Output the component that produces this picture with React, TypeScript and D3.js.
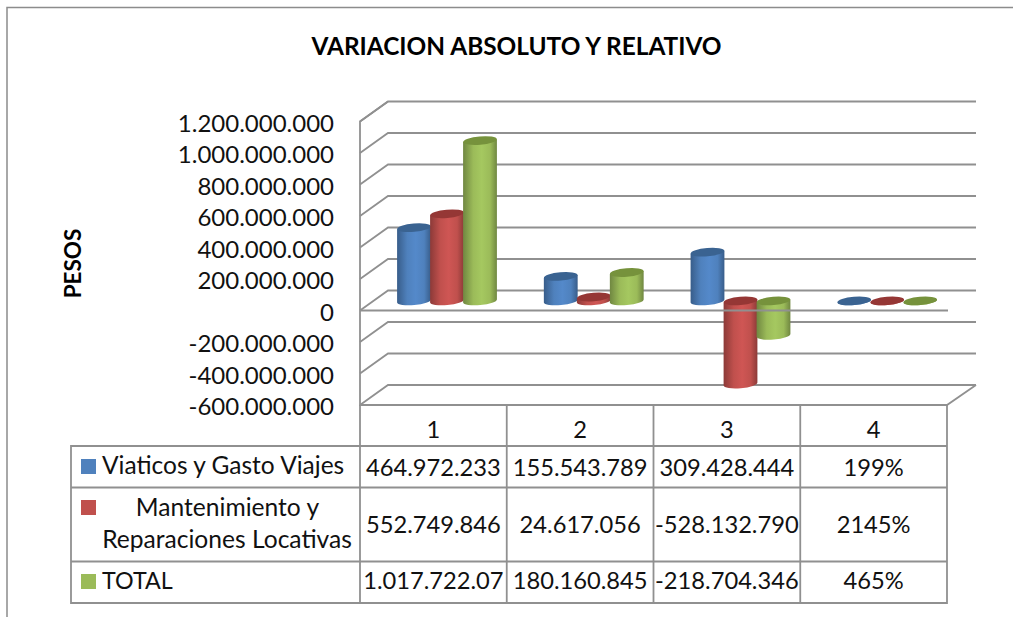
import React from "react";
import * as d3 from "d3";

const title = "VARIACION ABSOLUTO Y RELATIVO";
const yAxisTitle = "PESOS";
const categories = ["1", "2", "3", "4"];
const seriesNames = ["Viaticos y Gasto Viajes", "Mantenimiento y|Reparaciones Locativas", "TOTAL"];
const viaticos = [464972233, 155543789, 309428444, 199];
const mantenimiento = [552749846, 24617056, -528132790, 2145];
const total = [1017722070, 180160845, -218704346, 465];
const viaticosLabels = ["464.972.233", "155.543.789", "309.428.444", "199%"];
const mantenimientoLabels = ["552.749.846", "24.617.056", "-528.132.790", "2145%"];
const totalLabels = ["1.017.722.07", "180.160.845", "-218.704.346", "465%"];
const yTicks = [1200000000, 1000000000, 800000000, 600000000, 400000000, 200000000, 0, -200000000, -400000000, -600000000];
const colors = [
  { id: "b", base: "#4f81bd", light: "#5489ca", dark: "#385d8a", top: "#3a6391" },
  { id: "r", base: "#c0504d", light: "#cf5654", dark: "#8c3a38", top: "#953735" },
  { id: "g", base: "#9bbb59", light: "#a5c860", dark: "#708741", top: "#76923c" },
];

const fontFamily = "Lato, 'Open Sans', sans-serif";
const gridColor = "#909090";
const textColor = "#111";
const fmt = (v: number) => d3.format(",")(v).replace(/,/g, ".").replace(/\u2212/g, "-");

export default function App() {
  const series = [viaticos, mantenimiento, total];
  const labels = [viaticosLabels, mantenimientoLabels, totalLabels];
  const y = d3.scaleLinear().domain([-600000000, 1200000000]).range([405, 121.5]);
  const x = d3.scaleBand().domain(categories).range([360, 947]).paddingInner(0).paddingOuter(0);
  const depthX = 28;
  const depthY = -20;
  const barW = 33;
  const inset = 37.5;
  const midShift = -9.6;
  const rx = 16.9;
  const ry = 4.2;
  const rowY = [446, 487.5, 561.5, 603];
  const valueBase = [476, 532.5, 589];
  const keyCenter = [466.5, 507.5, 581.5];
  const colX = [...categories.map((c) => x(c) as number), 947];

  const cyl = (cx: number, y0: number, y1: number, c: (typeof colors)[number], key: string) => {
    const top = Math.min(y0, y1);
    const bot = Math.max(y0, y1);
    const tilt = -5;
    const l = cx - rx;
    const r = cx + rx;
    const dy = Math.tan((tilt * Math.PI) / 180) * rx;
    const path = `M${l},${top - dy} L${l},${bot - dy} A${rx},${ry} ${tilt} 0 0 ${r},${bot + dy} L${r},${top + dy} Z`;
    return (
      <g key={key}>
        <path d={path} fill={`url(#grad-${c.id})`} />
        <ellipse cx={cx} cy={top} rx={rx} ry={ry} fill={c.top} transform={`rotate(${tilt} ${cx} ${top})`} />
      </g>
    );
  };

  return (
    <svg width={1013} height={617} style={{ position: "absolute", left: 0, top: 0, background: "#fff" }} fontFamily={fontFamily}>
      <defs>
        {colors.map((c) => (
          <linearGradient key={c.id} id={`grad-${c.id}`} x1="0" x2="1" y1="0" y2="0">
            <stop offset="0" stopColor={c.dark} />
            <stop offset="0.3" stopColor={c.base} />
            <stop offset="0.55" stopColor={c.light} />
            <stop offset="0.8" stopColor={c.base} />
            <stop offset="1" stopColor={c.dark} />
          </linearGradient>
        ))}
      </defs>

      <path d="M7,617 L7,7.5 L1013,7.5" fill="none" stroke="#8c8c8c" strokeWidth={1.5} />

      <text x={516.5} y={54.5} textAnchor="middle" fontSize={24.4} fontWeight={700} fill="#000">{title}</text>
      <text transform="translate(81,263.5) rotate(-90)" textAnchor="middle" fontSize={22.5} fontWeight={700} fill="#000">{yAxisTitle}</text>

      {yTicks.map((t) => (
        <g key={t}>
          <path d={`M360,${y(t)} L${360 + depthX},${y(t) + depthY} L976,${y(t) + depthY}`} fill="none" stroke={gridColor} strokeWidth={1.8} />
          <text x={334} y={y(t) + 10} textAnchor="end" fontSize={24} fill={textColor}>{fmt(t)}</text>
        </g>
      ))}
      <path d={`M${360 + depthX},${y(1200000000) + depthY} L360,${y(1200000000)} L360,405 L947,405 L976,385`} fill="none" stroke={gridColor} strokeWidth={1.8} />

      {categories.map((c, i) => {
        const x0 = x(c) as number;
        return series.map((s, j) =>
          cyl(x0 + inset + barW / 2 + j * barW, y(0) + midShift, y(s[i]) + midShift, colors[j], `${c}-${j}`)
        );
      })}

      <line x1={360} x2={948} y1={y(0)} y2={y(0)} stroke={gridColor} strokeWidth={1.8} />

      {/* data table */}
      {rowY.map((ry0) => <line key={ry0} x1={71} x2={947} y1={ry0} y2={ry0} stroke={gridColor} strokeWidth={1.8} />)}
      <line x1={71} x2={71} y1={445} y2={604} stroke={gridColor} strokeWidth={1.8} />
      {colX.map((cx) => <line key={cx} x1={cx} x2={cx} y1={405} y2={604} stroke={gridColor} strokeWidth={1.8} />)}
      {categories.map((c) => (
        <text key={c} x={(x(c) as number) + x.bandwidth() / 2} y={438} textAnchor="middle" fontSize={23.7} fill={textColor}>{c}</text>
      ))}
      {labels.map((row, r) =>
        row.map((t, i) => (
          <text key={t} x={(x(categories[i]) as number) + x.bandwidth() / 2} y={valueBase[r]} textAnchor="middle" fontSize={23.7} fill={textColor}>{t}</text>
        ))
      )}
      {seriesNames.map((n, r) => {
        const parts = n.split("|");
        return (
          <g key={n}>
            <rect x={81} y={keyCenter[r] - 7.5} width={15} height={15} fill={colors[r].base} />
            {parts.length === 1 ? (
              <text x={102} y={r === 0 ? 473.5 : 589} fontSize={r === 0 ? 24.5 : 23.3} fill={textColor}>{n}</text>
            ) : (
              <>
                <text x={227.5} y={515.7} textAnchor="middle" fontSize={24.6} fill={textColor}>{parts[0]}</text>
                <text x={227} y={547.7} textAnchor="middle" fontSize={24.6} fill={textColor}>{parts[1]}</text>
              </>
            )}
          </g>
        );
      })}
    </svg>
  );
}
